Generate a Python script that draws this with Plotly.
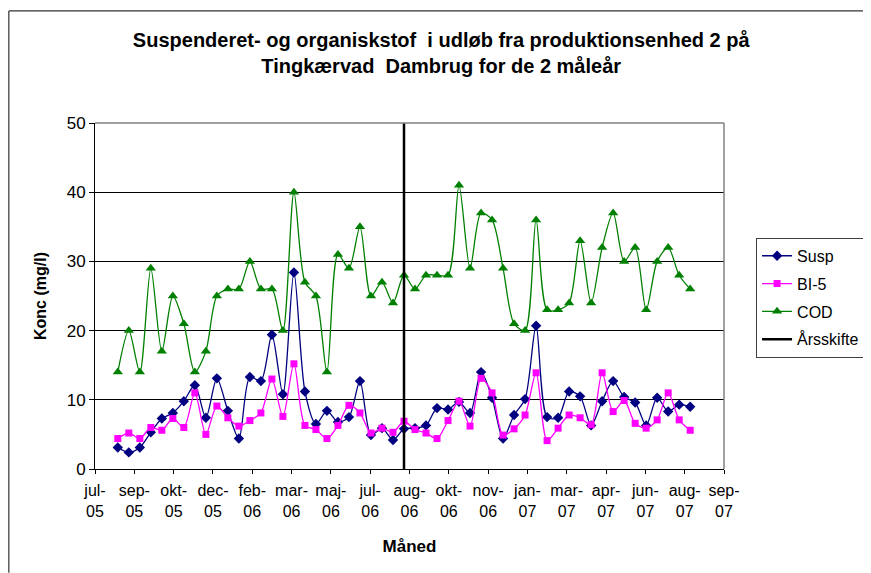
import plotly.graph_objects as go

# sampling dates (biweekly), Aug 2005 - Aug 2007
dates = ['2005-08-15', '2005-08-29', '2005-09-12', '2005-09-26', '2005-10-10', '2005-10-24',
         '2005-11-07', '2005-11-21', '2005-12-05', '2005-12-19',
         '2006-01-02', '2006-01-16', '2006-01-30', '2006-02-13', '2006-02-27', '2006-03-13',
         '2006-03-27', '2006-04-10', '2006-04-24', '2006-05-08', '2006-05-22', '2006-06-05',
         '2006-06-19', '2006-07-03', '2006-07-17', '2006-07-31', '2006-08-14', '2006-08-28',
         '2006-09-11', '2006-09-25', '2006-10-09', '2006-10-23', '2006-11-06', '2006-11-20',
         '2006-12-04', '2006-12-18',
         '2007-01-01', '2007-01-15', '2007-01-29', '2007-02-12', '2007-02-26', '2007-03-12',
         '2007-03-26', '2007-04-09', '2007-04-23', '2007-05-07', '2007-05-21', '2007-06-04',
         '2007-06-18', '2007-07-02', '2007-07-16', '2007-07-30', '2007-08-13']

susp = [3.1, 2.4, 3.1, 5.3, 7.3, 8.1, 9.8, 12.1, 7.4, 13.1, 8.4, 4.4, 13.3, 12.7, 19.4, 10.8,
        28.4, 11.2, 6.5, 8.4, 6.8, 7.5, 12.7, 4.9, 5.9, 4.2, 5.8, 5.9, 6.3, 8.8, 8.6, 9.7,
        8.1, 14.0, 10.3, 4.4, 7.8, 10.1, 20.7, 7.5, 7.4, 11.2, 10.5, 6.3, 9.8, 12.7, 10.4,
        9.6, 6.3, 10.3, 8.3, 9.3, 9.0]

bi5 = [4.4, 5.2, 4.4, 6.0, 5.6, 7.3, 6.0, 11.0, 5.0, 9.1, 7.4, 6.2, 7.0, 8.1, 13.0, 7.6,
       15.2, 6.3, 5.7, 4.4, 6.3, 9.2, 8.1, 5.2, 5.9, 5.3, 6.9, 5.7, 5.2, 4.4, 7.0, 9.8,
       6.2, 13.1, 11.0, 4.9, 5.8, 7.8, 13.9, 4.1, 5.9, 7.8, 7.4, 6.4, 13.9, 8.3, 9.9,
       6.6, 5.9, 7.1, 11.0, 7.1, 5.6]

cod = [14, 20, 14, 29, 17, 25, 21, 14, 17, 25, 26, 26, 30, 26, 26, 20,
       40, 27, 25, 14, 31, 29, 35, 25, 27, 24, 28, 26, 28, 28, 28, 41,
       29, 37, 36, 29, 21, 20, 36, 23, 23, 24, 33, 24, 32, 37, 30,
       32, 23, 30, 32, 28, 26]

# year shift marker
aarsskifte_x = ['2006-08-14', '2006-08-14']
aarsskifte_y = [0, 50]

tick_dates = ['2005-07-17', '2005-09-05', '2005-10-25', '2005-12-14', '2006-02-02',
              '2006-03-24', '2006-05-13', '2006-07-02', '2006-08-21', '2006-10-10',
              '2006-11-29', '2007-01-18', '2007-03-09', '2007-04-28', '2007-06-17',
              '2007-08-06', '2007-09-25']
tick_labels = ['jul-<br>05', 'sep-<br>05', 'okt-<br>05', 'dec-<br>05', 'feb-<br>06',
               'mar-<br>06', 'maj-<br>06', 'jul-<br>06', 'aug-<br>06', 'okt-<br>06',
               'nov-<br>06', 'jan-<br>07', 'mar-<br>07', 'apr-<br>07', 'jun-<br>07',
               'aug-<br>07', 'sep-<br>07']

FONT = 'Liberation Sans, Arial, sans-serif'

fig = go.Figure()
fig.add_trace(go.Scatter(x=dates, y=susp, name='Susp', mode='lines+markers', legendgroup='a',
                         line=dict(color='#000080', width=1.3, shape='spline', smoothing=0.8),
                         marker=dict(symbol='diamond', size=8, color='#000080')))
fig.add_trace(go.Scatter(x=dates, y=bi5, name='BI-5', mode='lines+markers', legendgroup='b',
                         line=dict(color='#FF00FF', width=1.3, shape='spline', smoothing=0.8),
                         marker=dict(symbol='square', size=7, color='#FF00FF')))
fig.add_trace(go.Scatter(x=dates, y=cod, name='COD', mode='lines+markers', legendgroup='c',
                         line=dict(color='#008000', width=1.3, shape='spline', smoothing=0.8),
                         marker=dict(symbol='triangle-up', size=9, color='#008000')))
fig.add_trace(go.Scatter(x=aarsskifte_x, y=aarsskifte_y, name='Årsskifte', mode='lines',
                         legendgroup='d', line=dict(color='black', width=2.5)))

# outer chart border (left and top edges only; rest falls outside the picture)
fig.add_shape(type='line', xref='paper', yref='paper', x0=-0.137, x1=-0.137, y0=-0.3, y1=1.324,
              line=dict(color='#333333', width=1.2), layer='above')
fig.add_shape(type='line', xref='paper', yref='paper', x0=-0.137, x1=1.225, y0=1.324, y1=1.324,
              line=dict(color='#333333', width=1.2), layer='above')
# grey plot-area frame (top/right)
fig.add_shape(type='line', xref='paper', yref='paper', x0=0, x1=1, y0=1, y1=1,
              line=dict(color='#808080', width=1.5))
fig.add_shape(type='line', xref='paper', yref='paper', x0=1, x1=1, y0=0, y1=1,
              line=dict(color='#808080', width=1.5))

# page body adds 8px offset on the left/top; figure spans the rest of the window
fig.update_layout(
    width=863, height=565,
    margin=dict(l=87, r=147, t=115, b=104, autoexpand=False),
    paper_bgcolor='white', plot_bgcolor='white',
    font=dict(family=FONT, size=16, color='black'),
    title=dict(text='<b>Suspenderet- og organiskstof  i udløb fra produktionsenhed 2 på<br>'
                    'Tingkærvad  Dambrug for de 2 måleår</b>',
               x=0.502, xanchor='center', y=0.931, yanchor='middle',
               font=dict(family=FONT, size=20, color='black')),
    showlegend=True,
    legend=dict(x=1.051, y=0.668, xanchor='left', yanchor='top',
                bordercolor='#404040', borderwidth=1, bgcolor='white',
                font=dict(family=FONT, size=16), traceorder='grouped', tracegroupgap=4,
                itemwidth=30),
)

fig.update_xaxes(
    type='date', range=['2005-07-17', '2007-09-25'],
    tickmode='array', tickvals=tick_dates, ticktext=tick_labels,
    showgrid=False, showline=True, linecolor='black', linewidth=1,
    ticks='outside', ticklen=4, tickcolor='black', ticklabelstandoff=3,
    tickfont=dict(family=FONT, size=16), zeroline=False,
    title=dict(text='<b>Måned</b>', font=dict(family=FONT, size=17), standoff=21),
)
fig.update_yaxes(
    range=[0, 50], tickvals=[0, 10, 20, 30, 40, 50],
    showgrid=True, gridcolor='black', gridwidth=1,
    showline=True, linecolor='black', linewidth=1,
    ticks='outside', ticklen=5, tickcolor='black',
    tickfont=dict(family=FONT, size=17), zeroline=False,
    title=dict(text='<b>Konc (mg/l)</b>', font=dict(family=FONT, size=16), standoff=16),
)

fig.write_html('out.html')
